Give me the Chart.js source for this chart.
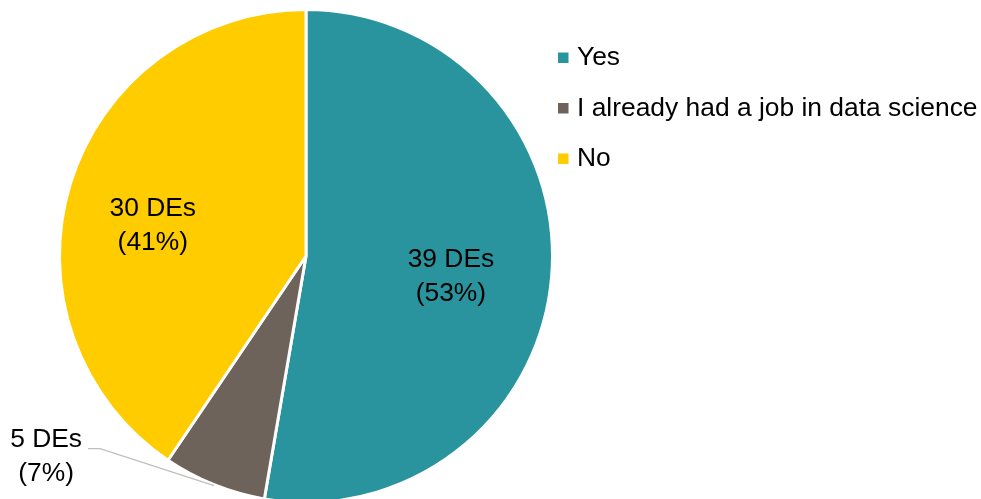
<!DOCTYPE html>
<html>
<head>
<meta charset="utf-8">
<script src="https://cdn.jsdelivr.net/npm/chart.js@4/dist/chart.umd.min.js"></script>
<style>
  html, body { margin: 0; padding: 0; background: #fff; }
  #wrap { width: 981px; height: 499px; overflow: hidden; position: relative; }
  #chart { display: block; }
</style>
</head>
<body>
<div id="wrap"><canvas id="chart" width="981" height="520"></canvas></div>
<script>
// data
const categories = ['Yes', 'I already had a job in data science', 'No'];
const counts = [39, 5, 30];
const percents = [53, 7, 41];
const colors = ['#2A949E', '#6E635A', '#FFCC00'];

const FONT = '"Liberation Sans", Arial, sans-serif';

// labels drawn on the slices (and one outside with a leader line)
const sliceLabels = {
    id: 'sliceLabels',
    afterDatasetsDraw(chart) {
        const ctx = chart.ctx;
        const meta = chart.getDatasetMeta(0);
        ctx.save();
        ctx.font = '26.4px ' + FONT;
        ctx.fillStyle = '#000';
        ctx.textAlign = 'center';
        ctx.textBaseline = 'middle';
        meta.data.forEach((arc, i) => {
            const p = arc.getProps(['x', 'y', 'startAngle', 'endAngle', 'outerRadius'], true);
            const mid = (p.startAngle + p.endAngle) / 2;
            const lines = [counts[i] + ' DEs', '(' + percents[i] + '%)'];
            let lx, ly;
            if (i === 1) {
                // small slice: outside label with leader line
                const ex = p.x + Math.cos(mid) * p.outerRadius;
                const ey = p.y + Math.sin(mid) * p.outerRadius;
                const bx = ex - 114, by = ey - 36;
                ctx.strokeStyle = '#BFBFBF';
                ctx.lineWidth = 1.3;
                ctx.beginPath();
                ctx.moveTo(ex, ey + 1);
                ctx.lineTo(bx, by);
                ctx.lineTo(bx - 12, by);
                ctx.stroke();
                lx = bx - 54; ly = by + 8;
            } else {
                const frac = i === 0 ? 0.59 : 0.65;
                const dy = i === 0 ? 8 : 17;
                lx = p.x + Math.cos(mid) * p.outerRadius * frac;
                ly = p.y + Math.sin(mid) * p.outerRadius * frac + dy;
            }
            ctx.fillText(lines[0], lx, ly - 17);
            ctx.fillText(lines[1], lx, ly + 17);
        });
        ctx.restore();
    }
};

// legend on the right
const sideLegend = {
    id: 'sideLegend',
    afterDraw(chart) {
        const ctx = chart.ctx;
        ctx.save();
        ctx.font = '26.4px ' + FONT;
        ctx.textAlign = 'left';
        ctx.textBaseline = 'middle';
        categories.forEach((name, i) => {
            const y = 57.5 + i * 50.5;
            ctx.fillStyle = colors[i];
            ctx.fillRect(558, y - 5, 10.5, 10.5);
            ctx.fillStyle = '#000';
            ctx.fillText(name, 577, y + 0.5);
        });
        ctx.restore();
    }
};

new Chart(document.getElementById('chart'), {
    type: 'pie',
    data: {
        labels: categories,
        datasets: [{
            data: counts,
            backgroundColor: colors,
            borderColor: '#ffffff',
            borderWidth: 3
        }]
    },
    options: {
        responsive: false,
        animation: false,
        layout: { padding: { left: 58, right: 427, top: 8, bottom: 16 } },
        plugins: {
            legend: { display: false },
            tooltip: { enabled: false }
        }
    },
    plugins: [sliceLabels, sideLegend]
});
</script>
</body>
</html>
